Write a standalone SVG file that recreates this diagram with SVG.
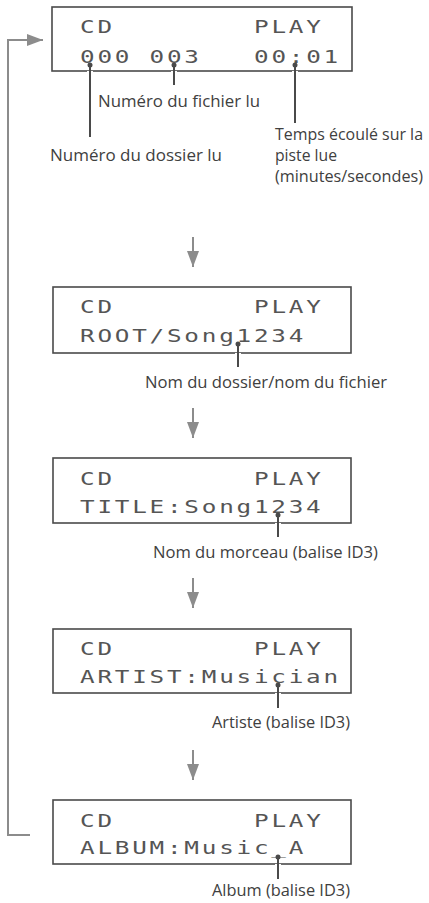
<svg xmlns="http://www.w3.org/2000/svg" width="429" height="903" viewBox="0 0 429 903">
<style>
.box{fill:#fff;stroke:#4a4a4a;stroke-width:1.6}
.lcd{font-family:"DejaVu Sans Mono",monospace;font-size:18px;letter-spacing:2.05px;fill:#555}
.lbl{font-family:"Open Sans","Liberation Sans",sans-serif;font-size:16px;fill:#404040}
.ptr{stroke:#4a4a4a;stroke-width:2;fill:none}
.gap{stroke:#fff;stroke-width:6}
.dot{fill:#4a4a4a}
.flow{stroke:#8c8c8c;stroke-width:2;fill:none}
.head{fill:#8c8c8c}
</style>
<defs>
<marker id="ah" viewBox="0 0 16 12" refX="16" refY="6" markerWidth="16" markerHeight="12" markerUnits="userSpaceOnUse" orient="auto">
<path d="M0,0 L16,6 L0,12 z" class="head"/>
</marker>
</defs>
<g id="connectors">
<path class="flow" d="M30,835 H8 V40 H43" marker-end="url(#ah)"/>
<line class="flow" x1="193" y1="237" x2="193" y2="267" marker-end="url(#ah)"/>
<line class="flow" x1="193" y1="408" x2="193" y2="438" marker-end="url(#ah)"/>
<line class="flow" x1="193" y1="578" x2="193" y2="608" marker-end="url(#ah)"/>
<line class="flow" x1="193" y1="750" x2="193" y2="780" marker-end="url(#ah)"/>
</g>
<g id="display1">
<rect class="box" x="52" y="7" width="300" height="64"/>
<text class="lcd" transform="translate(80,33) scale(1.35,1)">CD</text>
<text class="lcd" transform="translate(254,33) scale(1.35,1)">PLAY</text>
<text class="lcd" transform="translate(80,63) scale(1.35,1)">000 003</text>
<text class="lcd" transform="translate(254,63) scale(1.35,1)">00:01</text>
<line class="gap" x1="90" y1="71" x2="90" y2="72"/>
<line class="gap" x1="174" y1="71" x2="174" y2="72"/>
<line class="gap" x1="295" y1="71" x2="295" y2="72"/>
<line class="ptr" x1="90" y1="65" x2="90" y2="137"/>
<circle class="dot" cx="90" cy="65" r="2.5"/>
<line class="ptr" x1="174" y1="65" x2="174" y2="85"/>
<circle class="dot" cx="174" cy="65" r="2.5"/>
<line class="ptr" x1="295" y1="65" x2="295" y2="123"/>
<circle class="dot" cx="295" cy="65" r="2.5"/>
<text class="lbl" x="98" y="107" textLength="162" lengthAdjust="spacingAndGlyphs">Numéro du fichier lu</text>
<text class="lbl" x="50" y="161" textLength="172" lengthAdjust="spacingAndGlyphs">Numéro du dossier lu</text>
<text class="lbl" x="275" y="140" textLength="148" lengthAdjust="spacingAndGlyphs">Temps écoulé sur la</text>
<text class="lbl" x="275" y="161" textLength="62" lengthAdjust="spacingAndGlyphs">piste lue</text>
<text class="lbl" x="275" y="182" textLength="148" lengthAdjust="spacingAndGlyphs">(minutes/secondes)</text>
</g>
<g id="display2">
<rect class="box" x="53" y="287" width="298" height="66"/>
<text class="lcd" transform="translate(80,313) scale(1.35,1)">CD</text>
<text class="lcd" transform="translate(254,313) scale(1.35,1)">PLAY</text>
<text class="lcd" transform="translate(80,342) scale(1.35,1)">ROOT/Song1234</text>
<line class="gap" x1="238" y1="353" x2="238" y2="354"/>
<line class="ptr" x1="238" y1="344" x2="238" y2="367"/>
<circle class="dot" cx="238" cy="344" r="2.5"/>
<text class="lbl" x="145" y="388" textLength="242" lengthAdjust="spacingAndGlyphs">Nom du dossier/nom du fichier</text>
</g>
<g id="display3">
<rect class="box" x="53" y="458" width="298" height="65"/>
<text class="lcd" transform="translate(80,485) scale(1.35,1)">CD</text>
<text class="lcd" transform="translate(254,485) scale(1.35,1)">PLAY</text>
<text class="lcd" transform="translate(80,513) scale(1.35,1)">TITLE:Song1234</text>
<line class="gap" x1="278" y1="523" x2="278" y2="524"/>
<line class="ptr" x1="278" y1="515" x2="278" y2="537"/>
<circle class="dot" cx="278" cy="515" r="2.5"/>
<text class="lbl" x="153" y="558" textLength="225" lengthAdjust="spacingAndGlyphs">Nom du morceau (balise ID3)</text>
</g>
<g id="display4">
<rect class="box" x="53" y="629" width="298" height="64"/>
<text class="lcd" transform="translate(80,655) scale(1.35,1)">CD</text>
<text class="lcd" transform="translate(254,655) scale(1.35,1)">PLAY</text>
<text class="lcd" transform="translate(80,683) scale(1.35,1)">ARTIST:Musician</text>
<line class="gap" x1="278" y1="693" x2="278" y2="694"/>
<line class="ptr" x1="278" y1="685" x2="278" y2="708"/>
<circle class="dot" cx="278" cy="685" r="2.5"/>
<text class="lbl" x="212" y="728" textLength="138" lengthAdjust="spacingAndGlyphs">Artiste (balise ID3)</text>
</g>
<g id="display5">
<rect class="box" x="53" y="800" width="298" height="64"/>
<text class="lcd" transform="translate(80,827) scale(1.35,1)">CD</text>
<text class="lcd" transform="translate(254,827) scale(1.35,1)">PLAY</text>
<text class="lcd" transform="translate(80,854) scale(1.35,1)">ALBUM:Music_A</text>
<line class="gap" x1="278" y1="864" x2="278" y2="865"/>
<line class="ptr" x1="278" y1="857" x2="278" y2="879"/>
<circle class="dot" cx="278" cy="857" r="2.5"/>
<text class="lbl" x="212" y="896" textLength="138" lengthAdjust="spacingAndGlyphs">Album (balise ID3)</text>
</g>
</svg>
